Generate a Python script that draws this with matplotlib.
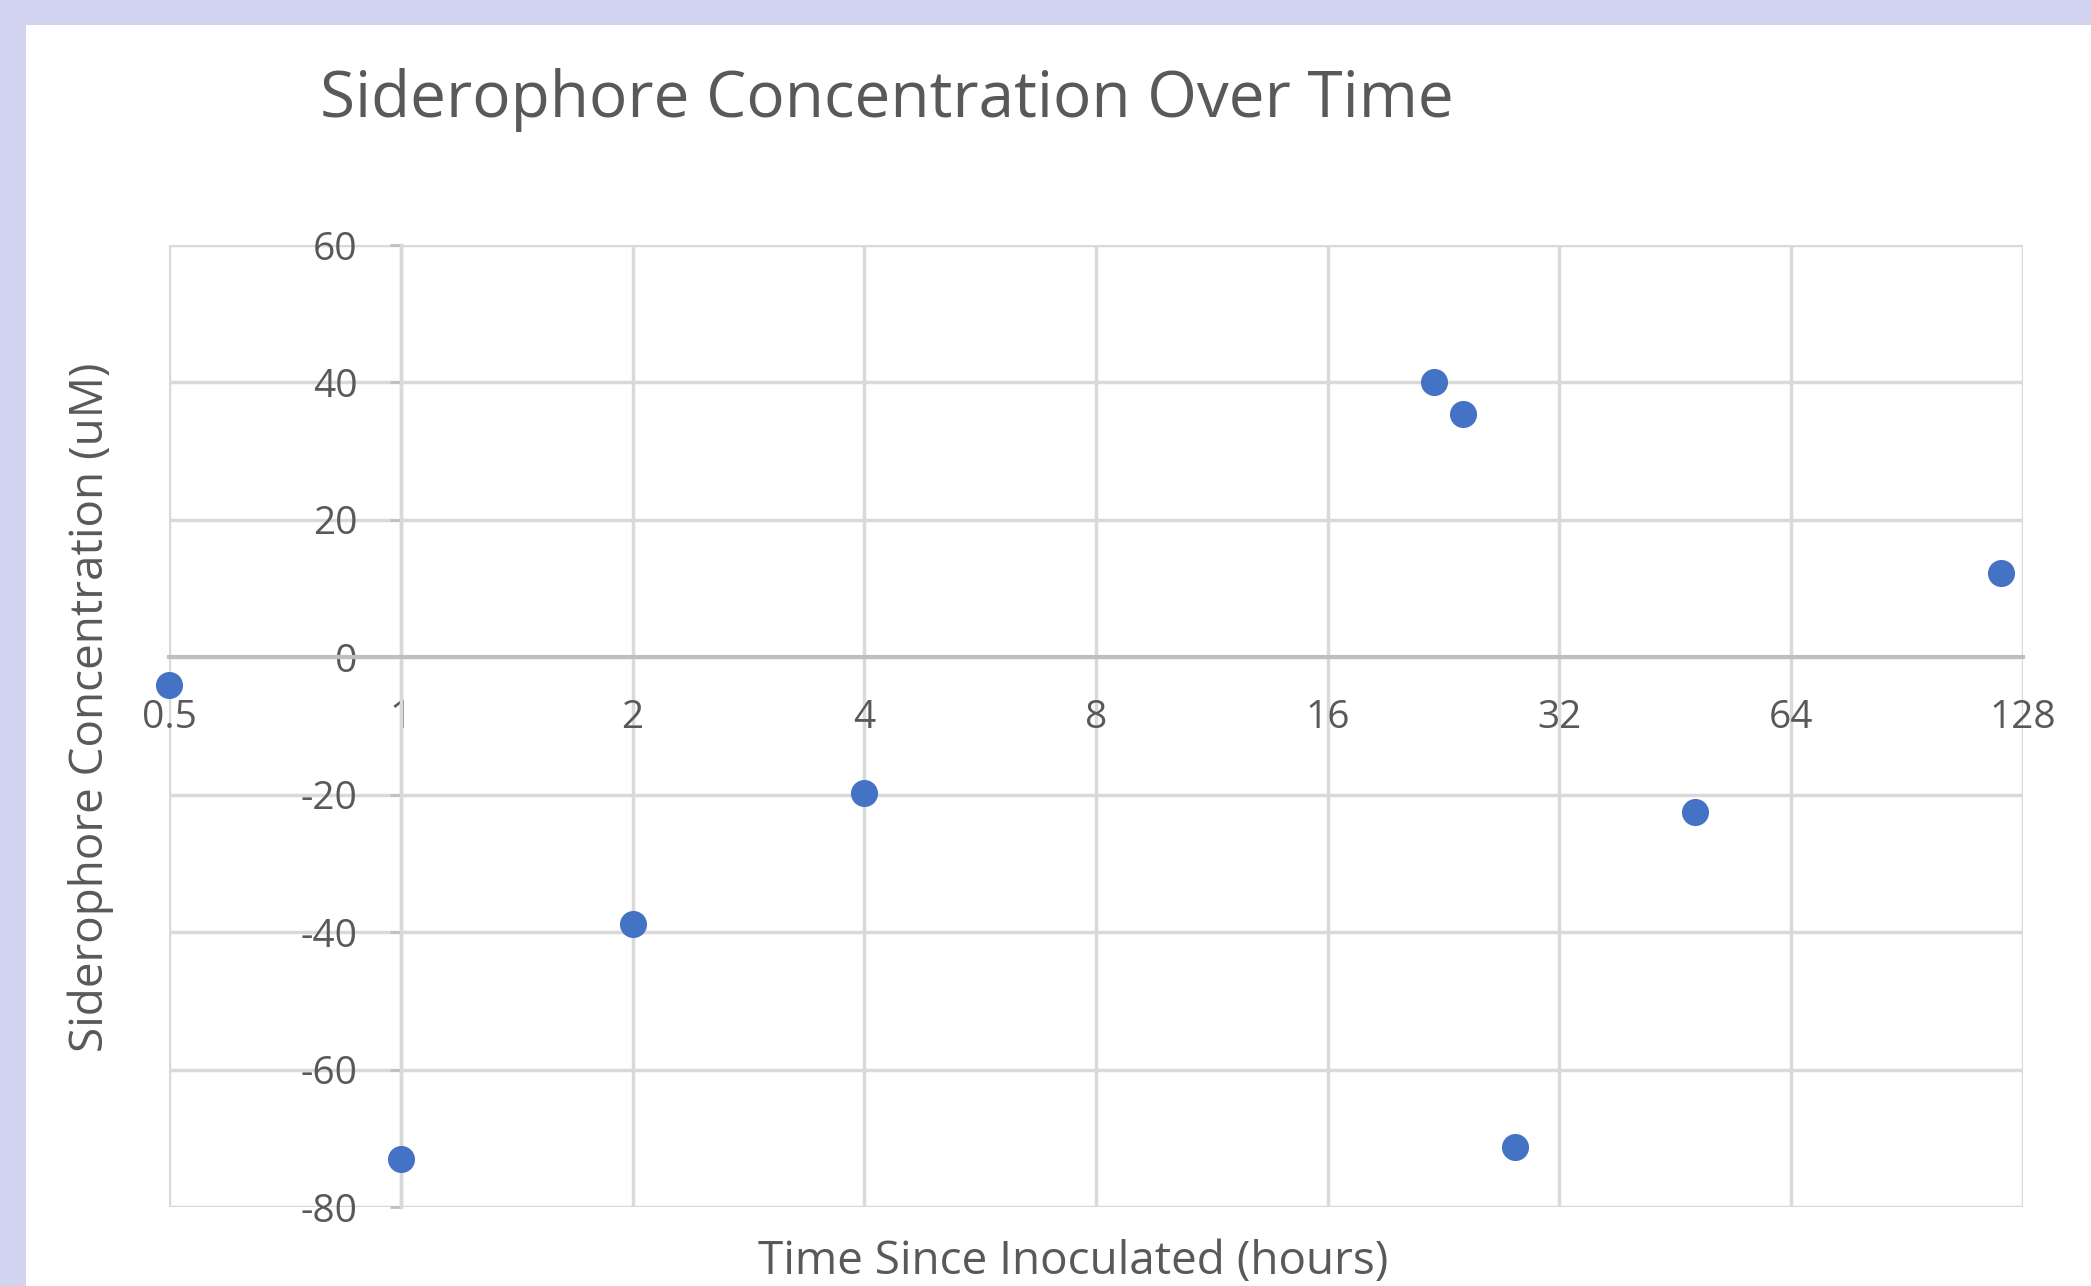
import matplotlib
matplotlib.use("Agg")
import matplotlib.pyplot as plt
from matplotlib.patches import Rectangle

# Data
hours = [0.5, 1, 2, 4, 22, 24, 28, 48, 120]
conc = [-4.0, -73.0, -38.8, -19.8, 40.0, 35.4, -71.3, -22.5, 12.3]
x_ticks = [0.5, 1, 2, 4, 8, 16, 32, 64, 128]
x_tick_labels = ["0.5", "1", "2", "4", "8", "16", "32", "64", "128"]
y_ticks = [-80, -60, -40, -20, 0, 20, 40, 60]
y_tick_labels = ["-80", "-60", "-40", "-20", "0", "20", "40", "60"]

W, H = 2091, 1286
fig = plt.figure(figsize=(W / 100, H / 100), dpi=100)
fig.patch.set_facecolor("#D2D3F0")
fig.patches.append(Rectangle((26 / W, 0), 1, 1 - 25 / H, transform=fig.transFigure,
                             facecolor="white", edgecolor="none", zorder=-10))

font = "Open Sans"
txt = "#595959"
ax = fig.add_axes([169 / W, 1 - 1207 / H, (2023 - 169) / W, (1207 - 245) / H])
ax.set_facecolor("white")
ax.set_xscale("log", base=2)
ax.set_xlim(0.5, 128)
ax.set_ylim(-80, 60)
ax.set_xticks(x_ticks)
ax.set_xticklabels(x_tick_labels)
ax.set_yticks(y_ticks)
ax.set_yticklabels(y_tick_labels)
ax.minorticks_off()
ax.grid(True, color="#D9D9D9", linewidth=2.5, zorder=0)
ax.set_axisbelow(True)

for s in ["top", "right"]:
    ax.spines[s].set_visible(False)
ax.spines["left"].set_position(("data", 1))
ax.spines["left"].set_color("#D9D9D9")
ax.spines["left"].set_linewidth(2.5)
ax.spines["bottom"].set_position(("data", 0))
ax.spines["bottom"].set_color("#BFBFBF")
ax.spines["bottom"].set_linewidth(3)

ax.tick_params(axis="x", length=0, pad=30, labelsize=28, labelcolor=txt)
ax.tick_params(axis="y", length=8, width=2, color="#BFBFBF", direction="out", pad=23,
               labelsize=28, labelcolor=txt)
for lab in ax.get_xticklabels() + ax.get_yticklabels():
    lab.set_fontfamily(font)

ax.scatter(hours, conc, s=380, color="#4472C4", zorder=3, clip_on=False, linewidths=0)

fig.text(887 / W, 1 - 100 / H, "Siderophore Concentration Over Time", ha="center", va="center",
         fontsize=46, color=txt, family=font)
fig.text(91 / W, 1 - 707 / H, "Siderophore Concentration (uM)", ha="center", va="center",
         rotation=90, fontsize=33, color=txt, family=font)
fig.text(1073 / W, 1 - 1262 / H, "Time Since Inoculated (hours)", ha="center", va="center",
         fontsize=33, color=txt, family=font)

fig.savefig("out.png", dpi=100, facecolor=fig.get_facecolor())
